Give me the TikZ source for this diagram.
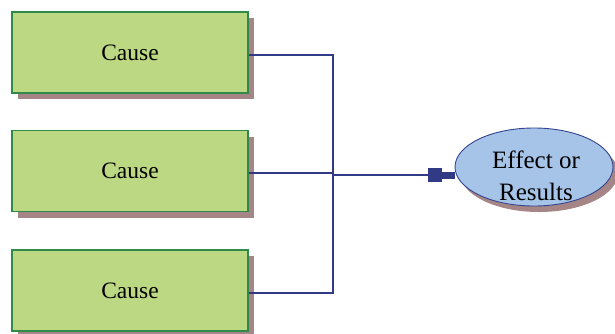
\documentclass[tikz,border=0pt]{standalone}
\usepackage{fontspec}
\setmainfont{Liberation Serif}
\usetikzlibrary{arrows.meta,shadows,shapes.geometric}
\definecolor{boxfill}{HTML}{BCD882}
\definecolor{boxdraw}{HTML}{2F8A4A}
\definecolor{shadowc}{HTML}{A58585}
\definecolor{linec}{HTML}{303A85}
\definecolor{ellfill}{HTML}{A6C3E8}
\definecolor{elldraw}{HTML}{34448F}
\tikzset{
  cause/.style={draw=boxdraw, line width=1.3pt, fill=boxfill, minimum width=236pt, minimum height=81pt, inner sep=0pt,
    font=\fontsize{23.5}{26}\selectfont,
    drop shadow={shadow xshift=6pt, shadow yshift=-6pt, fill=shadowc, opacity=1}},
  effect/.style={ellipse, draw=elldraw, line width=0.9pt, fill=ellfill, minimum width=158pt, minimum height=78pt, inner sep=0pt,
    drop shadow={shadow xshift=5pt, shadow yshift=-6pt, fill=shadowc, opacity=1}},
  etext/.style={font=\fontsize{25}{32}\selectfont, align=center, inner sep=0pt},
  conn/.style={draw=linec, line width=1.2pt}
}
\begin{document}
\begin{tikzpicture}[x=1pt,y=-1pt]
\useasboundingbox (0,0) rectangle (615,333);
\clip (0,0) rectangle (615,333);
\node[cause] (c1) at (130,52.5) {\raisebox{-1.5pt}{Cause}};
\node[cause] (c2) at (130,171) {\raisebox{-1.5pt}{Cause}};
\node[cause] (c3) at (130,290.5) {\raisebox{-1.5pt}{Cause}};
\node[effect] (e) at (534,167) {};
\node[etext] (et) at (536,176) {Effect or\\Results};
\coordinate (j) at (333,175);
\draw[conn] (c1.east |- 0,55) -| (j);
\draw[conn] (c3.east |- 0,293) -| (j);
\draw[conn] (c2.east |- 0,173) -- (333,173);
\draw[conn, -{Rectangle[length=14pt,width=14pt,sep=0pt]Rectangle[length=13pt,width=7pt]}] (j) -- (e.west |- j);
\end{tikzpicture}
\end{document}
